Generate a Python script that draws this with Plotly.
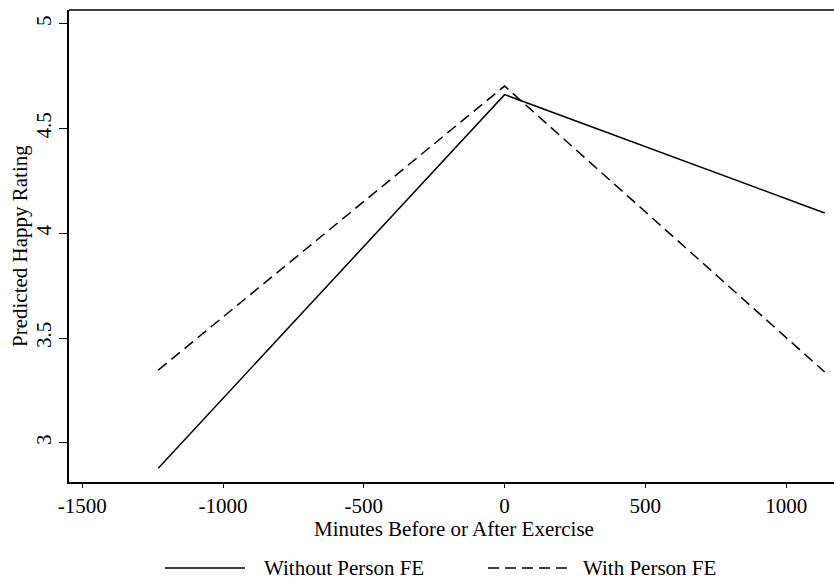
import plotly.graph_objects as go

# Predicted happiness rating around an exercise session
minutes = [-1230, 0, 1137]
without_fe = [2.879, 4.662, 4.097]
with_fe = [3.347, 4.703, 3.338]

series_names = ["Without Person FE", "With Person FE"]
x_ticks = [-1500, -1000, -500, 0, 500, 1000]
y_ticks = [3, 3.5, 4, 4.5, 5]

FONT = "Liberation Serif, Times New Roman, serif"
FS = 21
DASH = "11px,6px"

# plot-area geometry in pixels
W, H = 834, 584
L, R, T, B = 69, 0, 10, 102
PW, PH = W - L - R, H - T - B


def px_x(px):
    return (px - L) / PW


def px_y(py):
    return (H - B - py) / PH


fig = go.Figure()
fig.add_trace(go.Scatter(
    x=minutes, y=without_fe, mode="lines", name=series_names[0],
    line=dict(color="black", width=1.5, dash="solid"), showlegend=False,
))
fig.add_trace(go.Scatter(
    x=minutes, y=with_fe, mode="lines", name=series_names[1],
    line=dict(color="black", width=1.5, dash=DASH), showlegend=False,
))

fig.update_layout(
    width=W, height=H,
    margin=dict(l=L, r=R, t=T, b=B),
    paper_bgcolor="white", plot_bgcolor="white",
    font=dict(family=FONT, size=FS, color="black"),
    xaxis=dict(
        range=[-1547, 1170], tickvals=x_ticks,
        ticktext=[str(v) for v in x_ticks],
        showgrid=False, zeroline=False,
        showline=True, linecolor="black", linewidth=1.6,
        ticks="outside", ticklen=4, tickcolor="black", tickwidth=1,
    ),
    yaxis=dict(
        range=[2.813, 5.066], tickvals=y_ticks,
        ticktext=["3", "3.5", "4", "4.5", "5"], tickangle=-90,
        showgrid=False, zeroline=False,
        showline=True, linecolor="black", linewidth=1.6,
        ticks="outside", ticklen=8, tickcolor="black", tickwidth=1,
    ),
)

# top frame line of the plot region
fig.add_shape(type="line", xref="paper", yref="paper", x0=0, x1=1, y0=1, y1=1,
              line=dict(color="black", width=1.6))

# axis titles
fig.add_annotation(text="Minutes Before or After Exercise", xref="paper", yref="paper",
                   x=px_x(454), y=px_y(529), xanchor="center", yanchor="middle",
                   showarrow=False, font=dict(size=FS))
fig.add_annotation(text="Predicted Happy Rating", xref="paper", yref="paper",
                   x=px_x(20), y=px_y(246), xanchor="center", yanchor="middle",
                   textangle=-90, showarrow=False, font=dict(size=FS))

# legend row: sample line followed by its label
LEG_Y = 568
legend_items = [
    (series_names[0], "solid", 165, 245, 262),
    (series_names[1], DASH, 488, 569, 581),
]
for name, dash, x0, x1, tx in legend_items:
    fig.add_shape(type="line", xref="paper", yref="paper",
                  x0=px_x(x0), x1=px_x(x1), y0=px_y(LEG_Y), y1=px_y(LEG_Y),
                  line=dict(color="black", width=1.5, dash=dash))
    fig.add_annotation(text=name, xref="paper", yref="paper",
                       x=px_x(tx), y=px_y(LEG_Y), xanchor="left", yanchor="middle",
                       showarrow=False, font=dict(size=FS))

fig.write_html("out.html")
